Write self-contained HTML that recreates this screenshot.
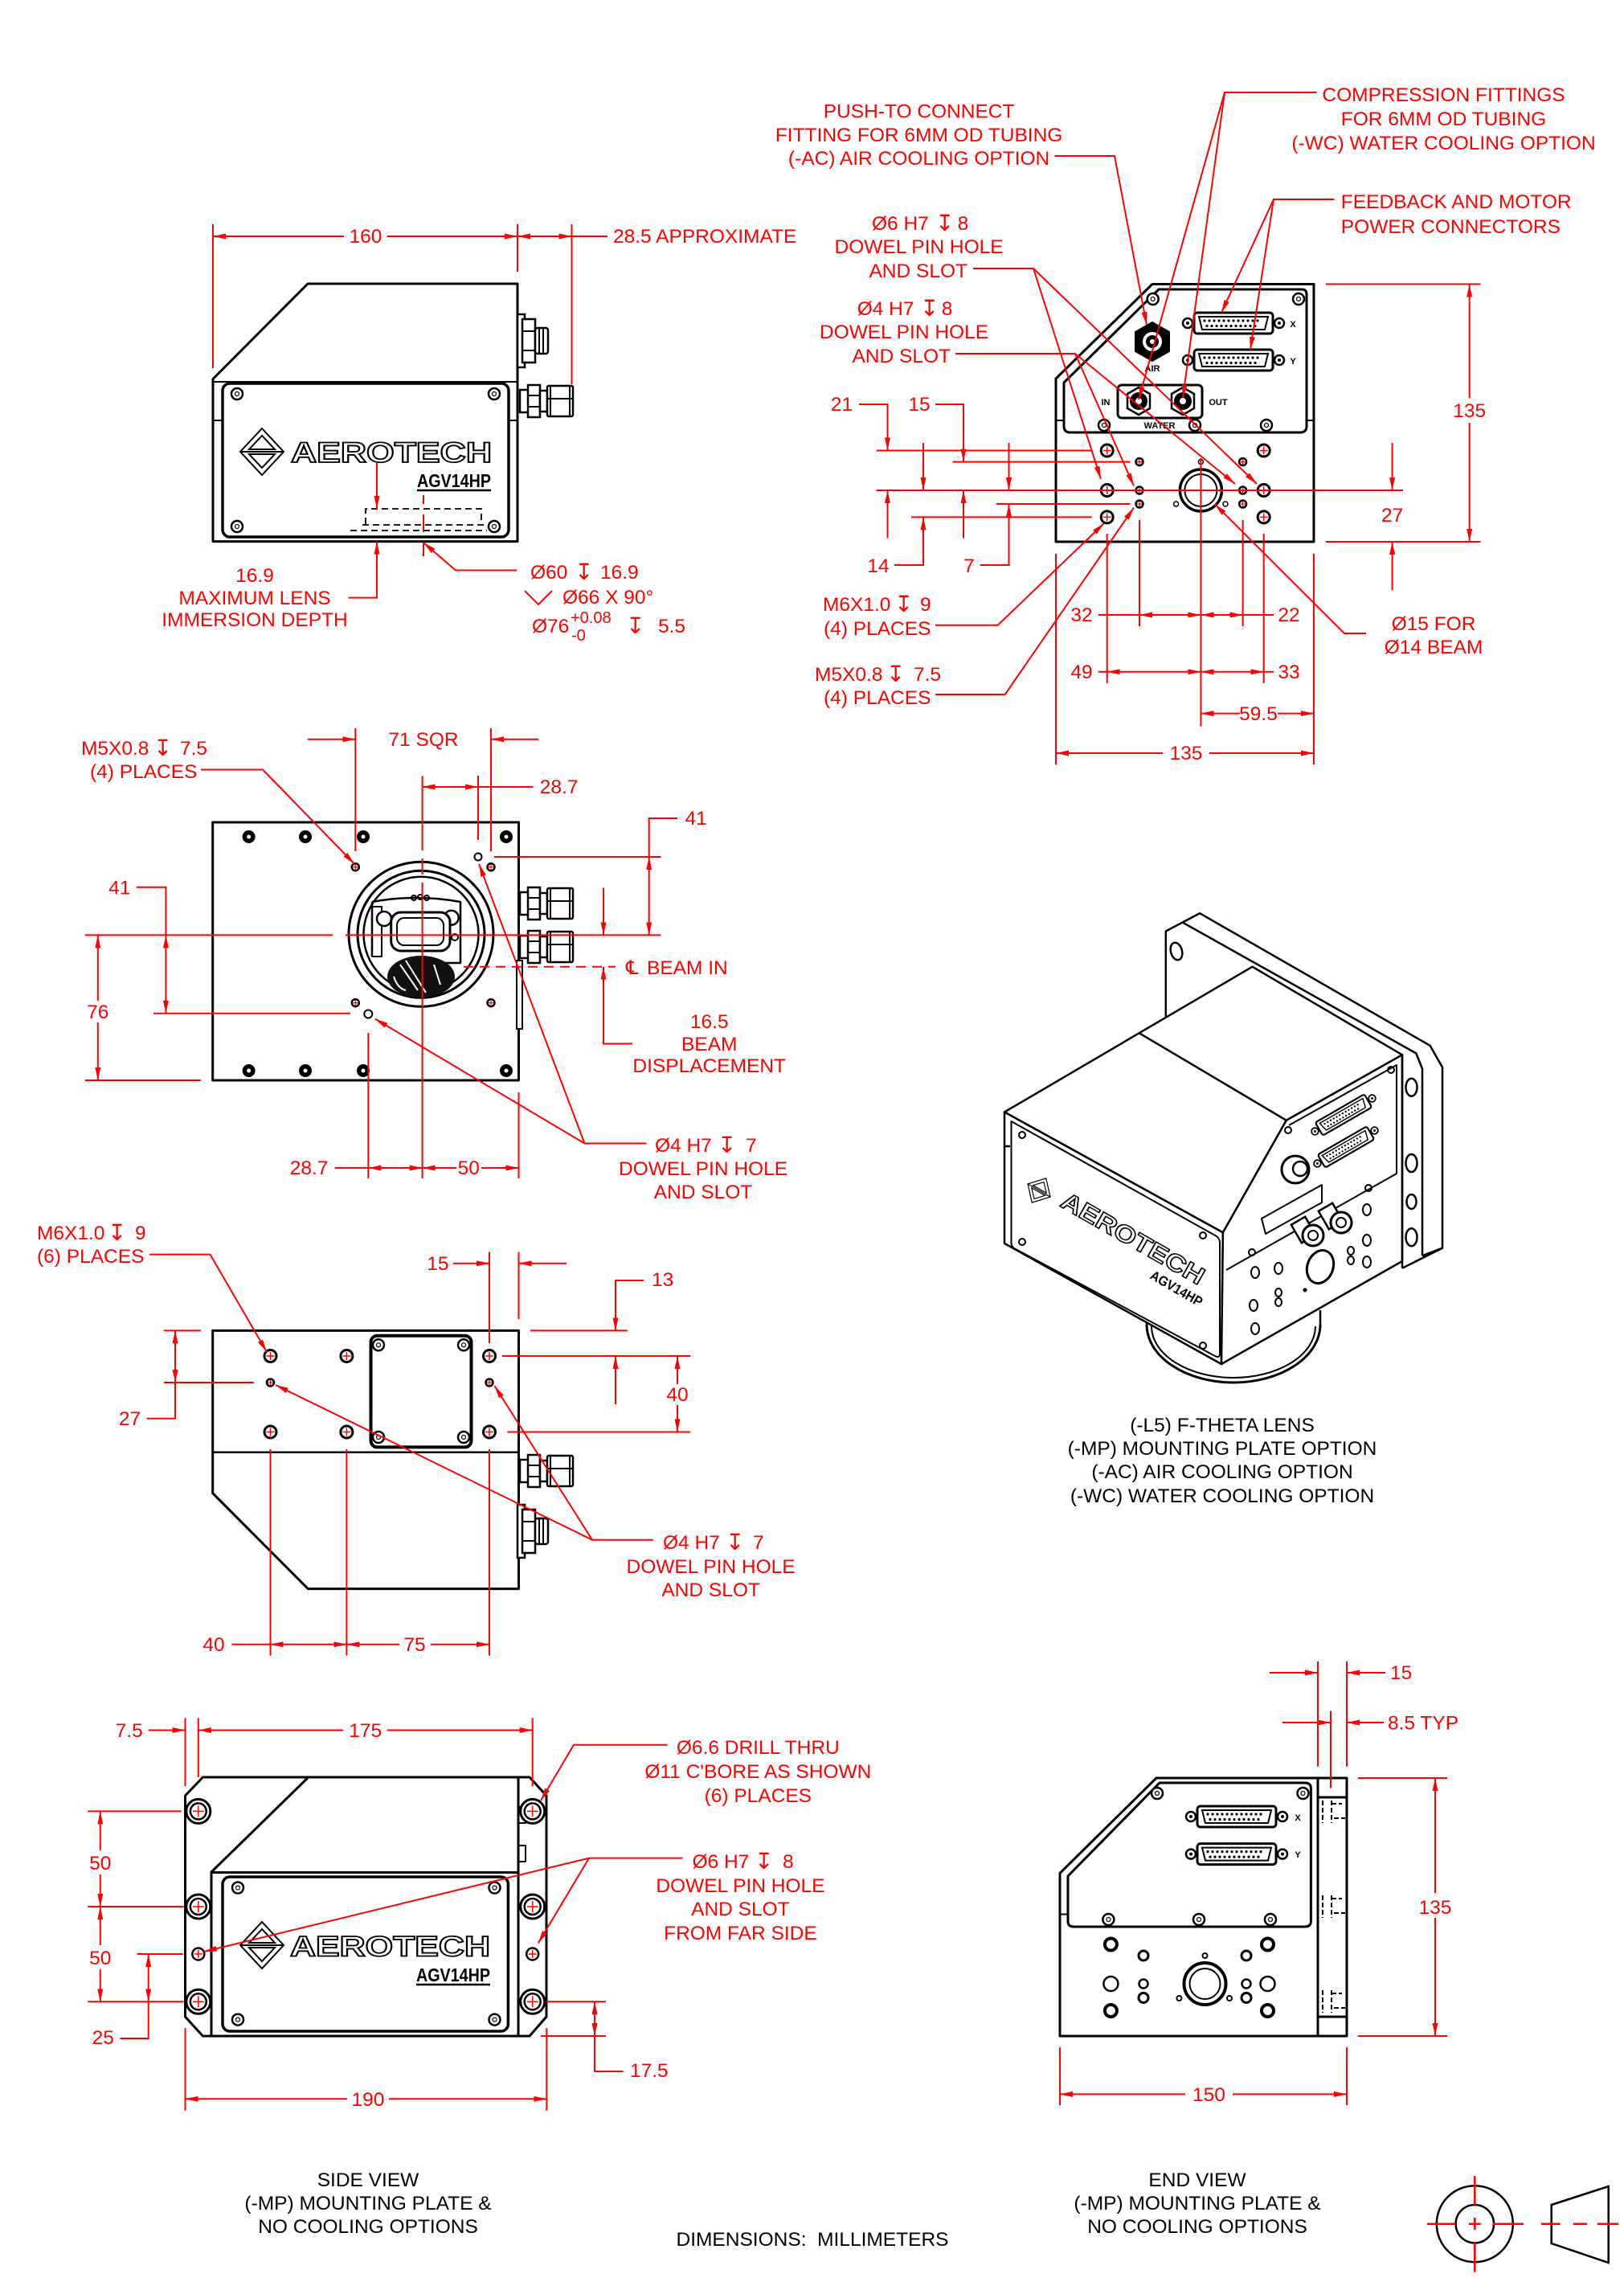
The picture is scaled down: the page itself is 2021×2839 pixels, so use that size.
<!DOCTYPE html>
<html><head><meta charset="utf-8"><title>AGV14HP Dimensions</title>
<style>
html,body{margin:0;padding:0;background:#fff}
svg{display:block}
.r{stroke:#f00;stroke-width:2;fill:none}
.k{stroke:#000;stroke-width:3;fill:none;stroke-linejoin:round}
.k2{stroke:#000;stroke-width:2;fill:none;stroke-linejoin:round}
.kw{stroke:#000;stroke-width:2.5;fill:#fff}
text{font-family:"Liberation Sans",Arial,sans-serif;font-size:24.5px;fill:#f00}
.m{text-anchor:middle}
.e{text-anchor:end}
.sy{font-family:"DejaVu Sans",sans-serif;font-size:28px}
.bk{fill:#000}
.lg{font-weight:bold;fill:#fff;stroke:#000;stroke-width:1.8}
.mdl{font-weight:bold;fill:#000}
.sm{font-weight:bold;fill:#000;font-size:11px}
</style></head><body>
<svg width="2021" height="2839" viewBox="0 0 2021 2839" xmlns="http://www.w3.org/2000/svg">
<defs>
<marker id="a" viewBox="0 0 16 7" refX="16" refY="3.5" markerWidth="16" markerHeight="7" markerUnits="userSpaceOnUse" orient="auto-start-reverse"><path d="M0,0L16,3.5L0,7z" fill="#f00"/></marker>
<g id="m6"><circle r="7.5" fill="#fff" stroke="#000" stroke-width="3"/><path d="M-5,0H5M0,-5V5" stroke="#f00" stroke-width="1.5"/></g>
<g id="sh"><circle r="4.5" fill="#fff" stroke="#000" stroke-width="2.5"/><path d="M-3,0H3M0,-3V3" stroke="#f00" stroke-width="1.2"/></g>
<g id="scr"><circle r="7" fill="#fff" stroke="#000" stroke-width="2.5"/><circle r="2.5" fill="none" stroke="#000" stroke-width="1.2"/></g>
<g id="bs"><circle r="8" fill="#000"/><circle r="2.5" fill="#fff"/></g>
<g id="cb"><circle r="15" fill="#fff" stroke="#000" stroke-width="3"/><circle r="10" fill="none" stroke="#000" stroke-width="2.5"/><path d="M-7,0H7M0,-7V7" stroke="#f00" stroke-width="1.5"/></g>
<g id="dsub">
<circle cx="-57" cy="0" r="6" fill="#fff" stroke="#000" stroke-width="2.5"/><circle cx="-57" cy="0" r="2" fill="#000"/>
<circle cx="57" cy="0" r="6" fill="#fff" stroke="#000" stroke-width="2.5"/><circle cx="57" cy="0" r="2" fill="#000"/>
<rect x="-49" y="-13" width="98" height="26" rx="4" fill="#fff" stroke="#000" stroke-width="3"/>
<path d="M-43,-8H43L39,8H-39Z" fill="none" stroke="#000" stroke-width="2"/>
<path d="M-36,-3H36" stroke="#000" stroke-width="3.2" stroke-linecap="round" stroke-dasharray="0 6"/>
<path d="M-33,3.5H33" stroke="#000" stroke-width="3.2" stroke-linecap="round" stroke-dasharray="0 6"/>
</g>
<g id="logo"><path d="M0,-29L27,0L0,29L-27,0Z" fill="none" stroke="#000" stroke-width="2"/><path d="M0,-20L-16,-3H16Z" fill="none" stroke="#000" stroke-width="2"/><path d="M-16,3H16L0,20Z" fill="none" stroke="#000" stroke-width="2"/><path d="M-27,0H27" stroke="#000" stroke-width="2"/></g>
<g id="cf">
<rect x="0" y="-14" width="12" height="28" class="kw"/>
<rect x="10" y="-20" width="15" height="40" class="kw"/>
<path d="M10,-7H25M10,7H25" class="k2"/>
<rect x="25" y="-13" width="9" height="26" class="kw"/>
<rect x="34" y="-19" width="32" height="38" rx="2" class="kw"/>
<path d="M38,-19V19M62,-19V19M34,-3H66" class="k2"/>
</g>
<g id="pc">
<rect x="0" y="-33" width="9" height="66" class="kw"/>
<rect x="6" y="-27" width="16" height="54" class="kw"/>
<path d="M6,-12H22M6,12H22" class="k2"/>
<rect x="22" y="-16" width="16" height="32" rx="3" class="kw"/>
<path d="M27,-16V16M32,-16V16" class="k2"/>
</g>
</defs>

<!-- ================= VIEW 1 : TOP LEFT ================= -->
<g>
<path d="M383,353H644V673.6H265V471.5Z" class="k"/>
<path d="M265,475H644" class="k2"/>
<path d="M265,523H277M633,523H644" class="k2"/>
<rect x="277" y="477" width="356" height="191" rx="9" class="k" style="stroke-width:3.5"/>
<use href="#scr" x="295" y="490"/><use href="#scr" x="615" y="490"/>
<use href="#scr" x="295" y="655"/><use href="#scr" x="615" y="655"/>
<use href="#logo" x="326" y="562"/>
<text x="362" y="575" textLength="250" lengthAdjust="spacingAndGlyphs" class="lg" style="font-size:35px">AEROTECH</text>
<text x="519" y="606" textLength="92" lengthAdjust="spacingAndGlyphs" class="mdl" style="font-size:23px">AGV14HP</text>
<path d="M519,610H611" stroke="#000" stroke-width="2.5"/>
<path d="M455,652V633H599V652" fill="none" stroke="#000" stroke-width="1.8" stroke-dasharray="8 5"/>
<path d="M451,653H604M436,660H606" fill="none" stroke="#000" stroke-width="1.8" stroke-dasharray="8 5"/>
<use href="#pc" x="644" y="424"/>
<use href="#cf" x="647" y="499"/>
<!-- red -->
<path d="M265,279V458M644,279V338M711.5,279V478" class="r"/>
<path d="M428,294H265" class="r" marker-end="url(#a)"/>
<path d="M482,294H644" class="r" marker-end="url(#a)"/>
<path d="M644,294H711.5" class="r" marker-start="url(#a)" marker-end="url(#a)"/>
<path d="M711.5,294H756" class="r"/>
<text x="455" y="302" class="m">160</text>
<text x="763" y="302">28.5 APPROXIMATE</text>
<path d="M469,575V633" class="r" marker-end="url(#a)"/>
<path d="M434,743.6H469V673.6" class="r" marker-end="url(#a)"/>
<path d="M527,616V627M527,640V662M527,675V692" class="r"/>
<path d="M643,709.5H567L527,675" class="r" marker-end="url(#a)"/>
<text x="317" y="724" class="m">16.9</text>
<text x="317" y="752" class="m">MAXIMUM LENS</text>
<text x="317" y="779" class="m">IMMERSION DEPTH</text>
<text x="660" y="720">Ø60</text><text x="715" y="721" class="sy">↧</text><text x="747" y="720">16.9</text>
<path d="M653,735L670,752L687,735" class="r"/>
<text x="700" y="751">Ø66 X 90°</text>
<text x="662" y="787">Ø76</text><text x="710" y="775" style="font-size:20px">+0.08</text><text x="711" y="797" style="font-size:20px">-0</text>
<text x="779" y="788" class="sy">↧</text><text x="819" y="787">5.5</text>
</g>

<!-- ================= VIEW 2 : TOP RIGHT ================= -->
<g>
<path d="M1434,353.5H1635V674H1314V471Z" class="k"/>
<path d="M1442,360H1620Q1626,360 1626,366V530Q1626,538 1618,538H1332Q1324,538 1324,530V476Z" class="k"/>
<path d="M1314,523H1324M1626,523H1635" class="k2"/>
<use href="#scr" x="1434.7" y="372"/><use href="#scr" x="1616" y="372"/>
<use href="#scr" x="1374" y="529"/><use href="#scr" x="1487" y="529"/><use href="#scr" x="1576" y="529"/>
<path d="M1434,401L1455,413V437L1434,449L1413,437V413Z" fill="#000" stroke="#000" stroke-width="2"/>
<circle cx="1434" cy="425" r="12" fill="#fff"/><circle cx="1434" cy="425" r="8" fill="#000"/><circle cx="1434" cy="425" r="3" fill="#fff"/>
<text x="1434" y="462" class="sm m">AIR</text>
<use href="#dsub" x="1535" y="402"/>
<use href="#dsub" x="1535" y="448"/>
<text x="1609" y="407" class="sm m">X</text>
<text x="1609" y="453" class="sm m">Y</text>
<rect x="1391" y="479" width="105" height="41" rx="5" class="k"/>
<path d="M1417,482L1431,490V508L1417,516L1403,508V490Z" class="kw"/>
<circle cx="1417" cy="499" r="11" fill="#000"/><circle cx="1417" cy="499" r="4" fill="#fff"/>
<path d="M1472,482L1486,490V508L1472,516L1458,508V490Z" class="kw"/>
<circle cx="1472" cy="499" r="11" fill="#000"/><circle cx="1472" cy="499" r="4" fill="#fff"/>
<text x="1376" y="504" class="sm m">IN</text>
<text x="1516" y="504" class="sm m">OUT</text>
<text x="1443" y="533" class="sm m">WATER</text>
<use href="#m6" x="1377.7" y="560.5"/><use href="#m6" x="1572.7" y="560.5"/>
<use href="#m6" x="1377.7" y="610"/><use href="#m6" x="1572.7" y="610"/>
<use href="#m6" x="1377.7" y="643.4"/><use href="#m6" x="1572.7" y="643.4"/>
<use href="#sh" x="1418" y="574.6"/><use href="#sh" x="1546.6" y="574.6"/>
<use href="#sh" x="1418" y="610"/><use href="#sh" x="1418" y="627"/>
<use href="#sh" x="1546.6" y="610"/><use href="#sh" x="1546.6" y="627"/>
<circle cx="1494.4" cy="610" r="26" fill="#fff" stroke="#000" stroke-width="3.5"/>
<circle cx="1494.4" cy="610" r="20" fill="none" stroke="#000" stroke-width="2"/>
<circle cx="1494.4" cy="574.6" r="3" fill="none" stroke="#000" stroke-width="1.5"/>
<circle cx="1463.5" cy="627" r="3" fill="none" stroke="#000" stroke-width="1.5"/>
<circle cx="1525" cy="627" r="3" fill="none" stroke="#000" stroke-width="1.5"/>
<!-- red -->
<path d="M1090.7,560.5H1358.5M1185.5,574.6H1406.5M1090.7,610H1746M1240,627H1406.5M1134,643.4H1358.5" class="r"/>
<path d="M1650,674H1842.5M1650,353.5H1842.5" class="r"/>
<path d="M1314,689V951M1377.7,664V850M1418,647V779M1494.4,570V903.5M1546.6,647V779M1572.7,664V850M1635,689V951" class="r"/>
<text x="1047.5" y="511" class="m">21</text>
<path d="M1069,503H1104.5V560.5" class="r" marker-end="url(#a)"/>
<path d="M1104.5,669.4V610" class="r" marker-end="url(#a)"/>
<text x="1144" y="511" class="m">15</text>
<path d="M1164,503H1199V574.6" class="r" marker-end="url(#a)"/>
<path d="M1199,669.4V610" class="r" marker-end="url(#a)"/>
<text x="1093" y="712" class="m">14</text>
<path d="M1149,551V610" class="r" marker-end="url(#a)"/>
<path d="M1113,703H1149V643.4" class="r" marker-end="url(#a)"/>
<text x="1206" y="712" class="m">7</text>
<path d="M1255.5,551V610" class="r" marker-end="url(#a)"/>
<path d="M1220,703H1255.5V627" class="r" marker-end="url(#a)"/>
<path d="M1732.6,551V610" class="r" marker-end="url(#a)"/>
<path d="M1732.6,734V674" class="r" marker-end="url(#a)"/>
<text x="1732.6" y="649" class="m">27</text>
<path d="M1828.7,495V353.5" class="r" marker-end="url(#a)"/>
<path d="M1828.7,526V674" class="r" marker-end="url(#a)"/>
<text x="1828.7" y="519" class="m">135</text>
<text x="1346" y="773" class="m">32</text>
<path d="M1366.7,765H1418" class="r"/>
<path d="M1418,765H1494.4" class="r" marker-start="url(#a)" marker-end="url(#a)"/>
<path d="M1494.4,765H1546.6" class="r" marker-start="url(#a)" marker-end="url(#a)"/>
<path d="M1546.6,765H1585" class="r"/>
<text x="1604" y="773" class="m">22</text>
<text x="1346" y="844" class="m">49</text>
<path d="M1366.7,835.8H1377.7" class="r"/>
<path d="M1377.7,835.8H1494.4" class="r" marker-start="url(#a)" marker-end="url(#a)"/>
<path d="M1494.4,835.8H1572.7" class="r" marker-start="url(#a)" marker-end="url(#a)"/>
<path d="M1572.7,835.8H1585" class="r"/>
<text x="1604" y="844" class="m">33</text>
<path d="M1543,887.6H1494.4" class="r" marker-end="url(#a)"/>
<path d="M1590,887.6H1635" class="r" marker-end="url(#a)"/>
<text x="1566" y="896" class="m">59.5</text>
<path d="M1447,937H1314" class="r" marker-end="url(#a)"/>
<path d="M1505,937H1635" class="r" marker-end="url(#a)"/>
<text x="1476" y="945" class="m">135</text>
<text x="1784" y="784" class="m">Ø15 FOR</text>
<text x="1784" y="813" class="m">Ø14 BEAM</text>
<path d="M1700,788H1673L1511.6,627" class="r" marker-end="url(#a)"/>
<text x="1024" y="760">M6X1.0</text><text x="1113" y="761" class="sy">↧</text><text x="1145" y="760">9</text>
<text x="1025" y="790">(4) PLACES</text>
<path d="M1164,777.7H1241.8L1374,651" class="r" marker-end="url(#a)"/>
<text x="1014" y="847">M5X0.8</text><text x="1103" y="848" class="sy">↧</text><text x="1137" y="847">7.5</text>
<text x="1025" y="876">(4) PLACES</text>
<path d="M1164,864H1250.7L1411,631.6" class="r" marker-end="url(#a)"/>
<text x="1143.6" y="146.5" class="m">PUSH-TO CONNECT</text>
<text x="1143.6" y="176" class="m">FITTING FOR 6MM OD TUBING</text>
<text x="1143.6" y="205" class="m">(-AC) AIR COOLING OPTION</text>
<path d="M1312.5,194H1387L1427,404" class="r" marker-end="url(#a)"/>
<text x="1796.5" y="126" class="m">COMPRESSION FITTINGS</text>
<text x="1796.5" y="156" class="m">FOR 6MM OD TUBING</text>
<text x="1796.5" y="186" class="m">(-WC) WATER COOLING OPTION</text>
<path d="M1638.6,115H1524L1417,497" class="r" marker-end="url(#a)"/>
<path d="M1524,115L1472,494.5" class="r" marker-end="url(#a)"/>
<text x="1668.8" y="259">FEEDBACK AND MOTOR</text>
<text x="1668.8" y="290">POWER CONNECTORS</text>
<path d="M1660.5,248H1585L1520,389" class="r" marker-end="url(#a)"/>
<path d="M1585,248L1556,435" class="r" marker-end="url(#a)"/>
<text x="1085" y="286">Ø6 H7</text><text x="1164" y="287" class="sy">↧</text><text x="1191.6" y="286">8</text>
<text x="1143.6" y="315" class="m">DOWEL PIN HOLE</text>
<text x="1204" y="345" class="e">AND SLOT</text>
<path d="M1211,334H1286L1370,596" class="r" marker-end="url(#a)"/>
<path d="M1286,334L1564,602" class="r" marker-end="url(#a)"/>
<text x="1066.7" y="392">Ø4 H7</text><text x="1145" y="393" class="sy">↧</text><text x="1171.7" y="392">8</text>
<text x="1125" y="421" class="m">DOWEL PIN HOLE</text>
<text x="1183" y="451" class="e">AND SLOT</text>
<path d="M1189,440H1338L1411,604.5" class="r" marker-end="url(#a)"/>
<path d="M1338,440L1537,602" class="r" marker-end="url(#a)"/>
</g>

<!-- ================= VIEW 3 : FRONT ================= -->
<g>
<rect x="264.7" y="1023" width="380.8" height="321" class="k"/>
<use href="#bs" x="309.6" y="1041"/><use href="#bs" x="380" y="1041"/><use href="#bs" x="452" y="1041"/><use href="#bs" x="630" y="1041"/>
<use href="#bs" x="309.6" y="1332"/><use href="#bs" x="380" y="1332"/><use href="#bs" x="452" y="1332"/><use href="#bs" x="630" y="1332"/>
<use href="#sh" x="442.3" y="1078.7"/><use href="#sh" x="611" y="1078.7"/>
<use href="#sh" x="442.3" y="1247.6"/><use href="#sh" x="611" y="1247.6"/>
<circle cx="595" cy="1066" r="4.5" class="kw" style="stroke-width:2"/>
<circle cx="458.3" cy="1261.5" r="5" class="kw" style="stroke-width:2"/>
<circle cx="524" cy="1162.3" r="90" fill="none" stroke="#000" stroke-width="3"/>
<circle cx="524" cy="1162.3" r="79" fill="none" stroke="#000" stroke-width="3"/>
<circle cx="524" cy="1162.3" r="71.5" fill="none" stroke="#000" stroke-width="2.5"/>
<path d="M463,1122Q518,1112 573,1122V1198H548M463,1122V1190" class="k2" style="stroke-width:2.5"/>
<rect x="463" y="1128" width="12" height="62" class="k2"/>
<circle cx="515" cy="1117" r="3" class="k2"/><circle cx="523" cy="1116" r="3" class="k2"/><circle cx="531" cy="1117" r="3" class="k2"/>
<ellipse cx="524" cy="1215" rx="42" ry="26" fill="#111"/>
<path d="M498,1200L520,1232M505,1195L530,1235M540,1200L548,1225M490,1215Q495,1230 505,1232" stroke="#fff" stroke-width="2" fill="none"/>
<circle cx="561.7" cy="1141.7" r="9" class="kw"/>
<circle cx="478" cy="1143" r="9" class="kw"/>
<rect x="486.7" y="1135" width="73.3" height="48" rx="12" fill="#fff" stroke="#000" stroke-width="3"/>
<rect x="494" y="1142" width="58" height="34" rx="9" fill="none" stroke="#000" stroke-width="2"/>
<circle cx="566" cy="1166" r="4" class="k2"/>
<use href="#cf" x="647" y="1124"/>
<use href="#cf" x="647" y="1178"/>
<rect x="643" y="1195" width="7" height="85" class="kw" style="stroke-width:2"/>
<!-- red -->
<path d="M105.8,1163.4H414M430,1163.4H822.4" class="r"/>
<path d="M525.6,965.4V1058M525.6,1068V1088M525.6,1098V1466" class="r"/>
<path d="M577,1202.7H766" class="r" stroke-dasharray="12 8"/>
<text x="779" y="1212" class="sy" style="fill:#f00;font-size:24px">℄</text>
<text x="805" y="1212">BEAM IN</text>
<text x="527" y="928" class="m">71 SQR</text>
<path d="M442.3,906V1059M611,906V1059" class="r"/>
<path d="M382.7,919.7H442.3" class="r" marker-end="url(#a)"/>
<path d="M670,919.7H611" class="r" marker-end="url(#a)"/>
<path d="M525.6,979H595" class="r" marker-start="url(#a)" marker-end="url(#a)"/>
<path d="M595,979H663.4M595,965V1045" class="r"/>
<text x="671.8" y="987">28.7</text>
<text x="852.5" y="1026">41</text>
<path d="M843,1018H807.7V1066" class="r"/>
<path d="M807.7,1066V1163.4" class="r" marker-start="url(#a)" marker-end="url(#a)"/>
<path d="M615,1066H822.4" class="r"/>
<path d="M751,1104.5V1163.4" class="r" marker-end="url(#a)"/>
<path d="M787,1298.5H751V1202.7" class="r" marker-end="url(#a)"/>
<text x="882.7" y="1279" class="m">16.5</text>
<text x="882.7" y="1307" class="m">BEAM</text>
<text x="882.7" y="1334" class="m">DISPLACEMENT</text>
<text x="148.7" y="1112.5" class="m">41</text>
<path d="M170,1103.7H206.4V1163.4" class="r"/>
<path d="M206.4,1163.4V1260.7" class="r" marker-start="url(#a)" marker-end="url(#a)"/>
<path d="M191,1260.7H436" class="r"/>
<path d="M121.8,1245V1163.4" class="r" marker-end="url(#a)"/>
<path d="M121.8,1272V1344" class="r" marker-end="url(#a)"/>
<text x="121.8" y="1267" class="m">76</text>
<path d="M105.8,1344H250" class="r"/>
<path d="M458.3,1285V1466M645.5,1359V1466" class="r"/>
<path d="M416.7,1453H458.3" class="r"/>
<path d="M458.3,1453H525.6" class="r" marker-start="url(#a)" marker-end="url(#a)"/>
<path d="M568,1453H525.6" class="r" marker-end="url(#a)"/>
<path d="M599,1453H645.5" class="r" marker-end="url(#a)"/>
<text x="384.6" y="1461" class="m">28.7</text>
<text x="583.3" y="1461" class="m">50</text>
<text x="101" y="939">M5X0.8</text><text x="191" y="940" class="sy">↧</text><text x="224" y="939">7.5</text>
<text x="112" y="968">(4) PLACES</text>
<path d="M250,957.5H327L441,1074.7" class="r" marker-end="url(#a)"/>
<text x="815" y="1433">Ø4 H7</text><text x="893" y="1434" class="sy">↧</text><text x="928" y="1433">7</text>
<text x="875" y="1462" class="m">DOWEL PIN HOLE</text>
<text x="875" y="1491" class="m">AND SLOT</text>
<path d="M804.5,1422.5H727.5L466.7,1267.5" class="r" marker-end="url(#a)"/>
<path d="M727.5,1422.5L596,1074.7" class="r" marker-end="url(#a)"/>
</g>

<!-- ================= VIEW 4 : BOTTOM/SIDE ================= -->
<g>
<path d="M264.7,1655.4H645.5V1976.6H383.3L264.7,1857.7Z" class="k"/>
<path d="M264.7,1806.7H645.5" class="k2" style="stroke-width:2.5"/>
<rect x="461.5" y="1661.7" width="125" height="138.7" rx="8" fill="none" stroke="#000" stroke-width="4"/>
<use href="#scr" x="471" y="1673.3"/><use href="#scr" x="577" y="1673.3"/>
<use href="#scr" x="471" y="1788"/><use href="#scr" x="577" y="1788"/>
<use href="#m6" x="336.5" y="1687"/><use href="#m6" x="431.4" y="1687"/><use href="#m6" x="609" y="1687"/>
<use href="#m6" x="336.5" y="1781.5"/><use href="#m6" x="431.4" y="1781.5"/><use href="#m6" x="609" y="1781.5"/>
<use href="#sh" x="336.5" y="1720"/><use href="#sh" x="609" y="1720"/>
<use href="#cf" x="647" y="1830"/>
<use href="#pc" x="644" y="1905"/>
<!-- red -->
<path d="M336.5,1803V2059.6M431.4,1803V2059.6M609,1557.6V1671M609,1803V2059.6M645.5,1557.6V1641" class="r"/>
<text x="544.9" y="1580" class="m">15</text>
<path d="M564,1571.8H609" class="r" marker-end="url(#a)"/>
<path d="M705,1571.8H645.5" class="r" marker-end="url(#a)"/>
<text x="811" y="1600">13</text>
<path d="M801,1593H766V1655.4" class="r" marker-end="url(#a)"/>
<path d="M766,1747V1687" class="r" marker-end="url(#a)"/>
<path d="M660,1655.4H780.8" class="r"/>
<path d="M843,1722V1687" class="r" marker-end="url(#a)"/>
<path d="M843,1748V1781.5" class="r" marker-end="url(#a)"/>
<text x="843" y="1743" class="m">40</text>
<path d="M625,1687H859M631.4,1781.5H859" class="r"/>
<path d="M218,1655.4V1720" class="r" marker-start="url(#a)" marker-end="url(#a)"/>
<path d="M218,1720V1764.7H182.7" class="r"/>
<text x="161.5" y="1773" class="m">27</text>
<path d="M203.8,1655.4H250M203.8,1720H316" class="r"/>
<text x="46" y="1542">M6X1.0</text><text x="134" y="1543" class="sy">↧</text><text x="168" y="1542">9</text>
<text x="46" y="1571">(6) PLACES</text>
<path d="M186,1560.6H261.5L332,1682" class="r" marker-end="url(#a)"/>
<text x="825" y="1927">Ø4 H7</text><text x="903" y="1928" class="sy">↧</text><text x="937" y="1927">7</text>
<text x="884.6" y="1957" class="m">DOWEL PIN HOLE</text>
<text x="884.6" y="1986" class="m">AND SLOT</text>
<path d="M812.8,1915.7H737L343,1723" class="r" marker-end="url(#a)"/>
<path d="M737,1915.7L615.4,1724" class="r" marker-end="url(#a)"/>
<text x="266" y="2054" class="m">40</text>
<path d="M288.5,2045.8H336.5" class="r"/>
<path d="M336.5,2045.8H431.4" class="r" marker-start="url(#a)" marker-end="url(#a)"/>
<path d="M497,2045.8H431.4" class="r" marker-end="url(#a)"/>
<path d="M536,2045.8H609" class="r" marker-end="url(#a)"/>
<text x="516" y="2054" class="m">75</text>
</g>

<!-- ================= VIEW 5 : SIDE VIEW MP ================= -->
<g>
<path d="M252.4,2211H659L680,2234V2509L659,2533H252.4L230.5,2509V2234Z" class="k"/>
<path d="M382.8,2212L263,2329V2533M263,2329.5H645M645,2212V2533" class="k"/>
<rect x="277" y="2335" width="355.4" height="192" rx="9" fill="none" stroke="#000" stroke-width="3.5"/>
<use href="#scr" x="296" y="2348.5"/><use href="#scr" x="615.5" y="2348.5"/>
<use href="#scr" x="296" y="2512.6"/><use href="#scr" x="615.5" y="2512.6"/>
<use href="#logo" x="326" y="2420"/>
<text x="361" y="2433.6" textLength="249" lengthAdjust="spacingAndGlyphs" class="lg" style="font-size:35px">AEROTECH</text>
<text x="518" y="2465" textLength="92" lengthAdjust="spacingAndGlyphs" class="mdl" style="font-size:23px">AGV14HP</text>
<path d="M518,2469H610" stroke="#000" stroke-width="2.5"/>
<rect x="645" y="2248" width="9" height="20" class="k2"/>
<rect x="645" y="2296" width="9" height="20" class="k2"/>
<use href="#cb" x="246.8" y="2253.4"/><use href="#cb" x="246.8" y="2372"/><use href="#cb" x="246.8" y="2490.3"/>
<use href="#cb" x="662.7" y="2253.4"/><use href="#cb" x="662.7" y="2372"/><use href="#cb" x="662.7" y="2490.3"/>
<circle cx="246.8" cy="2431" r="7.5" class="kw"/><path d="M241.8,2431H251.8M246.8,2426V2436" class="r" style="stroke-width:1.5"/>
<circle cx="662.7" cy="2431" r="7.5" class="kw"/><path d="M657.7,2431H667.7M662.7,2426V2436" class="r" style="stroke-width:1.5"/>
<!-- red -->
<text x="160.7" y="2161" class="m">7.5</text>
<path d="M184.7,2152.5H230.5" class="r" marker-end="url(#a)"/>
<path d="M427,2152.5H246.8" class="r" marker-end="url(#a)"/>
<path d="M482,2152.5H662.7" class="r" marker-end="url(#a)"/>
<text x="454.7" y="2161" class="m">175</text>
<path d="M230.5,2137.4V2222M246.8,2137.4V2211M662.7,2137.4V2222" class="r"/>
<path d="M124.8,2302V2253.4" class="r" marker-end="url(#a)"/>
<path d="M124.8,2332V2372" class="r" marker-end="url(#a)"/>
<text x="124.8" y="2326" class="m">50</text>
<path d="M124.8,2420V2372" class="r" marker-end="url(#a)"/>
<path d="M124.8,2450V2490.3" class="r" marker-end="url(#a)"/>
<text x="124.8" y="2444" class="m">50</text>
<path d="M109.3,2253.4H225.6M109.3,2372H228.7M109.3,2490.3H228.7" class="r"/>
<path d="M184.7,2431V2490.3" class="r" marker-start="url(#a)" marker-end="url(#a)"/>
<path d="M184.7,2490.3V2536H149.5M170.6,2431H227.7" class="r"/>
<text x="128.3" y="2543" class="m">25</text>
<path d="M740,2490.3V2533" class="r" marker-start="url(#a)" marker-end="url(#a)"/>
<path d="M740,2533V2577H775.5M680,2490.3H754M673,2533H754" class="r"/>
<text x="784" y="2584">17.5</text>
<path d="M432,2611.3H230.5" class="r" marker-end="url(#a)"/>
<path d="M484,2611.3H680.3" class="r" marker-end="url(#a)"/>
<text x="458" y="2620" class="m">190</text>
<path d="M230.5,2523V2625.7M680.3,2523V2625.7" class="r"/>
<text x="943.3" y="2182" class="m">Ø6.6 DRILL THRU</text>
<text x="943.3" y="2212" class="m">Ø11 C'BORE AS SHOWN</text>
<text x="943.3" y="2242" class="m">(6) PLACES</text>
<path d="M830.5,2170.8H714L673,2240" class="r" marker-end="url(#a)"/>
<text x="861.5" y="2324">Ø6 H7</text><text x="939" y="2325" class="sy">↧</text><text x="974" y="2324">8</text>
<text x="921.4" y="2354" class="m">DOWEL PIN HOLE</text>
<text x="921.4" y="2383" class="m">AND SLOT</text>
<text x="921.4" y="2413" class="m">FROM FAR SIDE</text>
<path d="M849.5,2311.6H733L253.8,2428" class="r" marker-end="url(#a)"/>
<path d="M733,2311.6L669.8,2417.5" class="r" marker-end="url(#a)"/>
</g>

<!-- ================= VIEW 6 : END VIEW MP ================= -->
<g>
<path d="M1439,2212H1676V2533H1319V2330.4Z" class="k"/>
<path d="M1640,2212V2533M1640,2236H1676M1640,2509H1676" class="k"/>
<path d="M1443,2218H1624Q1631.4,2218 1631.4,2225V2390Q1631.4,2397 1624,2397H1336Q1329,2397 1329,2390V2334Z" class="k"/>
<path d="M1319,2381.5H1329" class="k2"/>
<use href="#scr" x="1440" y="2231"/><use href="#scr" x="1621.5" y="2231"/>
<use href="#scr" x="1379.4" y="2388"/><use href="#scr" x="1492" y="2388"/><use href="#scr" x="1581" y="2388"/>
<use href="#dsub" x="1539" y="2260"/>
<use href="#dsub" x="1539" y="2306.6"/>
<text x="1615" y="2265" class="sm m">X</text>
<text x="1615" y="2311" class="sm m">Y</text>
<g fill="none" stroke="#000">
<path d="M1646,2240V2268M1657,2240V2268M1657,2244H1670M1660,2262H1674" stroke-width="2" stroke-dasharray="6 3"/>
<path d="M1646,2358V2386M1657,2358V2386M1657,2362H1670M1660,2380H1674" stroke-width="2" stroke-dasharray="6 3"/>
<path d="M1646,2476V2504M1657,2476V2504M1657,2480H1670M1660,2498H1674" stroke-width="2" stroke-dasharray="6 3"/>
<circle cx="1382.4" cy="2419" r="7.5" stroke-width="4"/><circle cx="1577.5" cy="2419" r="7.5" stroke-width="4"/>
<circle cx="1382.4" cy="2501.5" r="7.5" stroke-width="4"/><circle cx="1577.5" cy="2501.5" r="7.5" stroke-width="4"/>
<circle cx="1382.4" cy="2468" r="9" stroke-width="2.5"/><circle cx="1577.5" cy="2468" r="9" stroke-width="2.5"/>
<circle cx="1423" cy="2433" r="6" stroke-width="3"/><circle cx="1551" cy="2433" r="6" stroke-width="3"/>
<circle cx="1423" cy="2468" r="5.5" stroke-width="2.5"/><circle cx="1551" cy="2468" r="5.5" stroke-width="2.5"/>
<circle cx="1423" cy="2485.4" r="6" stroke-width="3"/><circle cx="1551" cy="2485.4" r="6" stroke-width="3"/>
<circle cx="1499.5" cy="2433" r="3" stroke-width="2"/><circle cx="1467.4" cy="2486" r="3" stroke-width="2"/><circle cx="1530" cy="2486" r="3" stroke-width="2"/>
<circle cx="1499.5" cy="2468" r="26" stroke-width="4"/><circle cx="1499.5" cy="2468" r="19" stroke-width="2"/>
</g>
<!-- red -->
<path d="M1580,2081H1640" class="r" marker-end="url(#a)"/>
<path d="M1724,2081H1676" class="r" marker-end="url(#a)"/>
<text x="1730" y="2089">15</text>
<path d="M1640,2067V2197.7M1676,2067V2197.7M1656,2128.5V2224.6" class="r"/>
<path d="M1596,2143H1656" class="r" marker-end="url(#a)"/>
<path d="M1722,2143H1676" class="r" marker-end="url(#a)"/>
<text x="1727" y="2151.5">8.5 TYP</text>
<path d="M1786,2355V2212" class="r" marker-end="url(#a)"/>
<path d="M1786,2386V2533" class="r" marker-end="url(#a)"/>
<text x="1786" y="2381" class="m">135</text>
<path d="M1689.7,2212H1801M1689.7,2533H1801" class="r"/>
<path d="M1475,2605.4H1319" class="r" marker-end="url(#a)"/>
<path d="M1534,2605.4H1676" class="r" marker-end="url(#a)"/>
<text x="1504.4" y="2614" class="m">150</text>
<path d="M1319,2547V2619M1676,2547V2619" class="r"/>
</g>

<!-- ================= 3D VIEW ================= -->
<g class="k" style="stroke-width:2.5">
<path d="M1450.8,1266.2V1158.5L1493.1,1136.2L1779.6,1300.8L1795,1327.7V1552.7L1745,1577.7" fill="#fff"/>
<path d="M1471.9,1147.7L1762.3,1310.4L1770,1329.6V1562.3"/>
<path d="M1770,1562.3L1795,1552.7"/>
<ellipse cx="1464" cy="1183.5" rx="7" ry="11" transform="rotate(-15 1464 1183.5)"/>
<ellipse cx="1756.5" cy="1352.7" rx="7" ry="11"/>
<ellipse cx="1756.5" cy="1447" rx="7" ry="11"/>
<ellipse cx="1756.5" cy="1495" rx="6" ry="9"/>
<ellipse cx="1756.5" cy="1539.2" rx="7" ry="11"/>
<!-- lens -->
<path d="M1427,1648A108,72 0 0 0 1643,1648" style="stroke-width:3"/>
<path d="M1433,1650A102,64 0 0 0 1637,1650" style="stroke-width:2"/>
<path d="M1427,1635V1650M1643,1630V1650"/>
<!-- body -->
<path d="M1250,1383.5L1558.5,1202.7L1745,1312.3L1600.8,1393.8L1521.9,1533.4Z" fill="#fff"/>
<path d="M1418,1285.4L1600.8,1393.8"/>
<path d="M1250,1383.5V1546.9L1520,1697L1521.9,1533.4Z" fill="#fff"/>
<path d="M1521.9,1533.4L1600.8,1393.8L1745,1312.3V1569L1520,1697Z" fill="#fff"/>
<path d="M1745,1312.3V1577.7"/>
<path d="M1258.5,1395L1514,1538Q1518,1541 1518,1546V1684Q1518,1690 1512,1687L1262,1553Q1258.5,1551 1258.5,1546Z" style="stroke-width:2"/>
<path d="M1250,1426H1257"/>
<path d="M1604,1400L1738,1325V1460L1526,1580" style="stroke-width:2"/>
<path d="M1570,1516L1645,1474V1496L1575,1535Z" style="stroke-width:2"/>
</g>
<g>
<circle cx="1272" cy="1412" r="4" class="k2"/><circle cx="1272" cy="1545" r="4" class="k2"/>
<circle cx="1497" cy="1537" r="4" class="k2"/><circle cx="1497" cy="1674" r="4" class="k2"/>
<circle cx="1603" cy="1406" r="4" class="k2"/><circle cx="1731" cy="1331" r="4" class="k2"/>
<circle cx="1703" cy="1478" r="4" class="k2"/><circle cx="1558" cy="1558" r="4" class="k2"/>
<use href="#logo" transform="translate(1293,1481) rotate(30) scale(0.6)"/>
<text transform="translate(1318,1500) rotate(29.7)" textLength="200" lengthAdjust="spacingAndGlyphs" class="lg" style="font-size:30px;stroke-width:1.5">AEROTECH</text>
<text transform="translate(1430,1590) rotate(30)" textLength="72" lengthAdjust="spacingAndGlyphs" class="mdl" style="font-size:17px">AGV14HP</text>
<g transform="translate(1672,1387) rotate(-30) scale(0.72)"><use href="#dsub"/></g>
<g transform="translate(1675,1427) rotate(-30) scale(0.72)"><use href="#dsub"/></g>
<circle cx="1612" cy="1455" r="17" class="kw" style="stroke-width:3"/>
<circle cx="1618" cy="1454" r="9" class="kw"/>
<rect x="1646" y="1500" width="20" height="26" transform="rotate(-30 1656 1513)" class="kw"/>
<circle cx="1669" cy="1521" r="13" class="kw" style="stroke-width:3"/><circle cx="1669" cy="1521" r="6" class="k2"/>
<rect x="1612" y="1517" width="20" height="26" transform="rotate(-30 1622 1530)" class="kw"/>
<circle cx="1634" cy="1537" r="13" class="kw" style="stroke-width:3"/><circle cx="1634" cy="1537" r="6" class="k2"/>
<ellipse cx="1643" cy="1576" rx="16" ry="21" class="kw" style="stroke-width:3" transform="rotate(20 1643 1576)"/>
<ellipse cx="1562" cy="1583" rx="5" ry="7" class="k2"/>
<ellipse cx="1591" cy="1578" rx="5" ry="7" class="k2"/>
<ellipse cx="1560" cy="1624" rx="5" ry="7" class="k2"/>
<ellipse cx="1591" cy="1608" rx="4" ry="5" class="k2"/>
<ellipse cx="1591" cy="1620" rx="4" ry="5" class="k2"/>
<ellipse cx="1562" cy="1653" rx="5" ry="7" class="k2"/>
<ellipse cx="1701" cy="1505" rx="5" ry="7" class="k2"/>
<ellipse cx="1701" cy="1543" rx="5" ry="7" class="k2"/>
<ellipse cx="1681" cy="1556" rx="4" ry="5" class="k2"/>
<ellipse cx="1681" cy="1568" rx="4" ry="5" class="k2"/>
<ellipse cx="1701" cy="1570" rx="5" ry="7" class="k2"/>
<circle cx="1624" cy="1605" r="2.5" fill="#000"/>
</g>
<text x="1521" y="1781" class="m bk">(-L5) F-THETA LENS</text>
<text x="1521" y="1810" class="m bk">(-MP) MOUNTING PLATE OPTION</text>
<text x="1521" y="1839" class="m bk">(-AC) AIR COOLING OPTION</text>
<text x="1521" y="1869" class="m bk">(-WC) WATER COOLING OPTION</text>

<!-- ================= TITLES ================= -->
<text x="458" y="2720" class="m bk">SIDE VIEW</text>
<text x="458" y="2749" class="m bk">(-MP) MOUNTING PLATE &amp;</text>
<text x="458" y="2778" class="m bk">NO COOLING OPTIONS</text>
<text x="1490" y="2720" class="m bk">END VIEW</text>
<text x="1490" y="2749" class="m bk">(-MP) MOUNTING PLATE &amp;</text>
<text x="1490" y="2778" class="m bk">NO COOLING OPTIONS</text>
<text x="1011" y="2794" class="m bk">DIMENSIONS:&#160; MILLIMETERS</text>

<!-- projection symbol -->
<circle cx="1835.3" cy="2766.7" r="47.5" fill="none" stroke="#000" stroke-width="2.5"/>
<circle cx="1835.3" cy="2766.7" r="23.7" fill="none" stroke="#000" stroke-width="2.5"/>
<path d="M1835.3,2707V2743M1835.3,2759V2774M1835.3,2789V2826.7M1776,2766.7H1811.5M1828,2766.7H1842.7M1858,2766.7H1896" stroke="#f00" stroke-width="2.5" fill="none"/>
<path d="M1930.7,2743L2001.7,2720V2815L1930.7,2791Z" fill="none" stroke="#000" stroke-width="2.5"/>
<path d="M1918,2766.7H1941.7M1958,2766.7H1975M1988,2766.7H2014" stroke="#f00" stroke-width="2.5" fill="none"/>
</svg>
</body></html>
